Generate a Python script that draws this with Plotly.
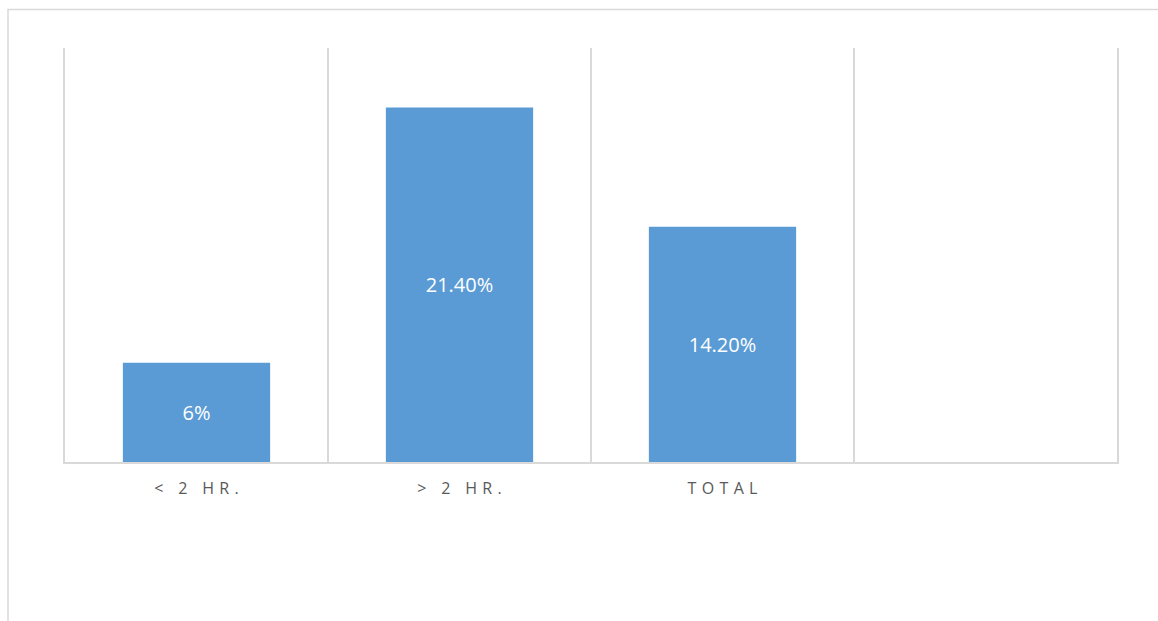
import plotly.graph_objects as go

# Share of cases by duration group
categories = ["< 2 HR.", "> 2 HR.", "TOTAL", ""]
values = [6, 21.4, 14.2, None]
value_labels = ["6%", "21.40%", "14.20%", ""]

GAP = "\u2004"


def spaced(s):
    # widen the tracking of category labels
    return GAP.join(list(s))


tick_text = [spaced(c) for c in categories]

W, H = 1158, 621
L, R, T, B = 65, 41, 48, 159
pw = W - L - R
ph = H - T - B
GRID = "#D9D9D9"

fig = go.Figure()
fig.add_trace(go.Bar(
    x=categories,
    y=values,
    text=value_labels,
    textposition="inside",
    insidetextanchor="middle",
    textangle=0,
    textfont=dict(family="Open Sans, Liberation Sans, sans-serif", size=20, color="#FFFFFF"),
    marker=dict(color="#5B9BD5", line=dict(width=0)),
    width=0.56,
    hoverinfo="skip",
))

fig.update_xaxes(
    type="category",
    categoryorder="array",
    categoryarray=categories,
    tickvals=categories,
    ticktext=tick_text,
    tickson="boundaries",
    showgrid=True,
    gridcolor=GRID,
    gridwidth=1.5,
    showline=True,
    linecolor=GRID,
    linewidth=1.5,
    ticks="",
    tickfont=dict(family="Open Sans, Liberation Sans, sans-serif", size=16, color="#595959"),
    ticklabelstandoff=11,
    range=[-0.5, 3.5],
    fixedrange=True,
)
fig.update_yaxes(
    range=[0, 25],
    showgrid=False,
    showticklabels=False,
    zeroline=False,
    showline=True,
    mirror=True,
    linecolor=GRID,
    linewidth=1.5,
    ticks="",
    fixedrange=True,
)

# outer chart border
fig.add_shape(
    type="rect", xref="paper", yref="paper",
    x0=(8 - L) / pw, x1=2.0,
    y0=-2.0, y1=(H - B - 9.5) / ph,
    line=dict(color=GRID, width=1.5),
    fillcolor="rgba(0,0,0,0)", layer="below",
)

fig.update_layout(
    width=W, height=H,
    margin=dict(l=L, r=R, t=T, b=B),
    paper_bgcolor="#FFFFFF",
    plot_bgcolor="#FFFFFF",
    showlegend=False,
    bargap=0.44,
)

fig.write_html("out.html", config={"displayModeBar": False})
